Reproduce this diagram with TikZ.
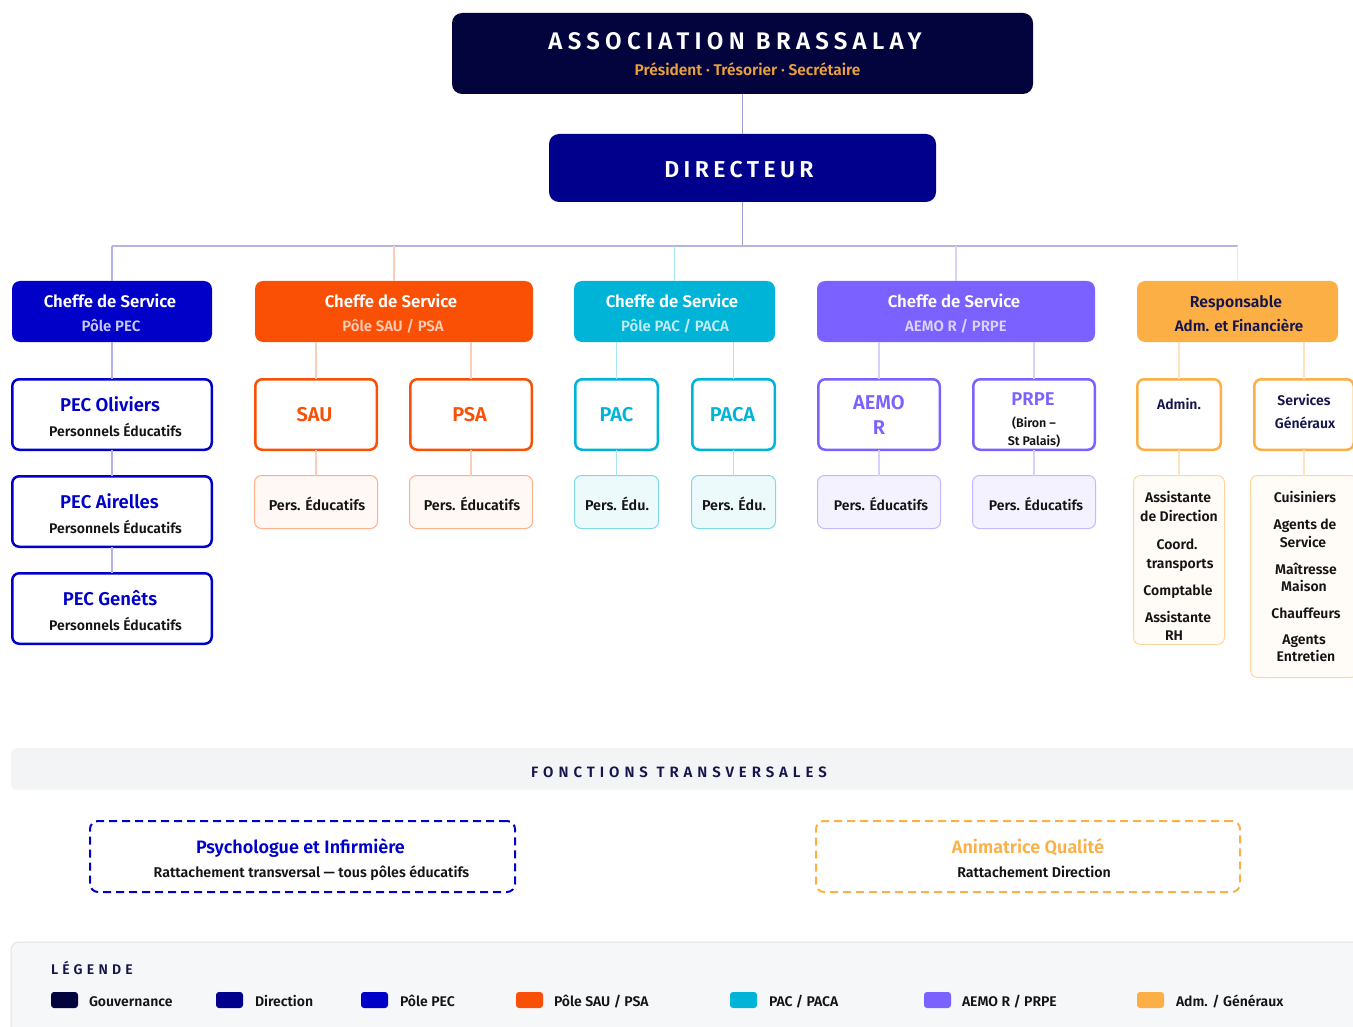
\documentclass[tikz,border=0pt]{standalone}
\usepackage{fontspec}
\setmainfont{Fira Sans}[BoldFont={Fira Sans SemiBold}]
\definecolor{gov}{HTML}{03033D}
\definecolor{dir}{HTML}{00008C}
\definecolor{pec}{HTML}{0000C8}
\definecolor{sau}{HTML}{FA5005}
\definecolor{pac}{HTML}{00B4D8}
\definecolor{aemo}{HTML}{7B61FF}
\definecolor{adm}{HTML}{FBAF45}
\definecolor{ink}{HTML}{141414}
\definecolor{navytxt}{HTML}{15154C}
\definecolor{gold}{HTML}{E9A23B}
\definecolor{trunk}{HTML}{9C9CD2}
\definecolor{barbg}{HTML}{F3F4F6}
\definecolor{legbg}{HTML}{F6F7F9}
\definecolor{legline}{HTML}{E1E3E7}
\newcommand\fsz[1]{\fontsize{#1}{#1}\selectfont\bfseries}
\tikzset{
  x=1pt, y=-1pt,
  every node/.style={inner sep=0pt, outer sep=0pt},
  txt/.style={anchor=base, text=ink},
  headbox/.style={fill=#1, rounded corners=8pt},
  unitbox/.style={draw=#1, line width=2.5pt, fill=white, rounded corners=7pt},
  staffbox/.style 2 args={draw=#1, line width=1pt, fill=#2, rounded corners=7pt},
  link/.style={draw=#1, line width=1.5pt},
  swatch/.style={fill=#1, rounded corners=3pt, minimum width=27pt, minimum height=16pt},
  dashbox/.style={draw=#1, line width=2pt, dash pattern=on 8pt off 5pt, rounded corners=8pt}
}
\begin{document}
\begin{tikzpicture}
\useasboundingbox (0,0) rectangle (1353,1027);

% ---------- governance and direction ----------
\node[fill=gov, rounded corners=10pt, minimum width=581pt, minimum height=81pt] (gov) at (742.5,53.5) {};
\node[txt, text=white] (govT) at (735,50) {\fsz{24}\addfontfeature{LetterSpace=22}ASSOCIATION BRASSALAY};
\node[txt, text=gold] (govS) at (747.5,76) {\fsz{15.5}Président · Trésorier · Secrétaire};

\node[fill=dir, rounded corners=10pt, minimum width=387pt, minimum height=68pt] (dir) at (742.5,168) {};
\node[txt, text=white] (dirT) at (739,178) {\fsz{23}\addfontfeature{LetterSpace=19}DIRECTEUR};

% ---------- heads of service ----------
\node[headbox=pec, minimum width=200pt, minimum height=61pt] (chPEC) at (112,311.5) {};
\node[headbox=sau, minimum width=278pt, minimum height=61pt] (chSAU) at (394,311.5) {};
\node[headbox=pac, minimum width=201pt, minimum height=61pt] (chPAC) at (674.5,311.5) {};
\node[headbox=aemo, minimum width=278pt, minimum height=61pt] (chAEMO) at (956,311.5) {};
\node[headbox=adm, minimum width=201pt, minimum height=61pt] (chADM) at (1237.5,311.5) {};

\node[txt, text=white] (chPECa) at (110,307.5) {\fsz{16.8}Cheffe de Service};
\node[txt, text=white!78!pec] (chPECb) at (111,331) {\fsz{15}Pôle PEC};
\node[txt, text=white] (chSAUa) at (391,307.5) {\fsz{16.8}Cheffe de Service};
\node[txt, text=white!70!sau] (chSAUb) at (393,331) {\fsz{15}Pôle SAU / PSA};
\node[txt, text=white] (chPACa) at (672,307.5) {\fsz{16.8}Cheffe de Service};
\node[txt, text=white!75!pac] (chPACb) at (675,331) {\fsz{15}Pôle PAC / PACA};
\node[txt, text=white] (chAEMOa) at (954,307.5) {\fsz{16.8}Cheffe de Service};
\node[txt, text=white!72!aemo] (chAEMOb) at (956,331) {\fsz{15}AEMO R / PRPE};
\node[txt, text=navytxt] (chADMa) at (1236,307.5) {\fsz{15.8}Responsable};
\node[txt, text=navytxt] (chADMb) at (1239,331) {\fsz{15.2}Adm. et Financière};

% ---------- units ----------
\node[unitbox=pec, minimum width=199.5pt, minimum height=70.5pt] (pecA) at (112,414.5) {};
\node[unitbox=pec, minimum width=199.5pt, minimum height=70.5pt] (pecB) at (112,511.5) {};
\node[unitbox=pec, minimum width=199.5pt, minimum height=70.5pt] (pecC) at (112,608.5) {};
\node[unitbox=sau, minimum width=121.5pt, minimum height=70.5pt] (sau) at (316,414.5) {};
\node[unitbox=sau, minimum width=121.5pt, minimum height=70.5pt] (psa) at (471,414.5) {};
\node[unitbox=pac, minimum width=82.5pt, minimum height=70.5pt] (pacU) at (616.5,414.5) {};
\node[unitbox=pac, minimum width=82.5pt, minimum height=70.5pt] (pacaU) at (733.5,414.5) {};
\node[unitbox=aemo, minimum width=121.5pt, minimum height=70.5pt] (aemoU) at (879,414.5) {};
\node[unitbox=aemo, minimum width=121.5pt, minimum height=70.5pt] (prpeU) at (1034,414.5) {};
\node[unitbox=adm, minimum width=83.5pt, minimum height=70.5pt] (admU) at (1179,414.5) {};
\node[unitbox=adm, minimum width=99.5pt, minimum height=70.5pt] (servU) at (1304,414.5) {};

\node[txt, text=pec] (pecAa) at (110,411.5) {\fsz{18.5}PEC Oliviers};
\node[txt] (pecAb) at (115.5,436) {\fsz{14}Personnels Éducatifs};
\node[txt, text=pec] (pecBa) at (109.5,508) {\fsz{18.5}PEC Airelles};
\node[txt] (pecBb) at (115.5,533) {\fsz{14}Personnels Éducatifs};
\node[txt, text=pec] (pecCa) at (110,605) {\fsz{18.5}PEC Genêts};
\node[txt] (pecCb) at (115.5,630) {\fsz{14}Personnels Éducatifs};
\node[txt, text=sau] (sauT) at (314.5,421) {\fsz{20}SAU};
\node[txt, text=sau] (psaT) at (469.5,421) {\fsz{20}PSA};
\node[txt, text=pac] (pacT) at (616.5,421) {\fsz{20}PAC};
\node[txt, text=pac] (pacaT) at (732.5,421) {\fsz{20}PACA};
\node[txt, text=aemo] (aemoT1) at (879,409) {\fsz{20}AEMO};
\node[txt, text=aemo] (aemoT2) at (879,434) {\fsz{20}R};
\node[txt, text=aemo] (prpeT1) at (1033,405.5) {\fsz{18.5}PRPE};
\node[txt] (prpeT2) at (1034,427.5) {\fsz{12.5}(Biron –};
\node[txt] (prpeT3) at (1034,445.5) {\fsz{12.5}St Palais)};
\node[txt, text=navytxt] (admT) at (1179,409) {\fsz{14}Admin.};
\node[txt, text=navytxt] (servT1) at (1304,405) {\fsz{14}Services};
\node[txt, text=navytxt] (servT2) at (1305,428) {\fsz{14}Généraux};

% ---------- staff ----------
\node[staffbox={sau!45}{sau!4}, minimum width=123pt, minimum height=53pt] (sauP) at (316,502) {};
\node[staffbox={sau!45}{sau!4}, minimum width=123pt, minimum height=53pt] (psaP) at (471,502) {};
\node[staffbox={pac!50}{pac!7}, minimum width=84pt, minimum height=53pt] (pacP) at (616.5,502) {};
\node[staffbox={pac!50}{pac!7}, minimum width=84pt, minimum height=53pt] (pacaP) at (733.5,502) {};
\node[staffbox={aemo!45}{aemo!8}, minimum width=123pt, minimum height=53pt] (aemoP) at (879,502) {};
\node[staffbox={aemo!45}{aemo!8}, minimum width=123pt, minimum height=53pt] (prpeP) at (1034,502) {};
\node[staffbox={adm!50}{adm!5}, minimum width=91pt, minimum height=169pt] (admL) at (1179,560) {};
\node[staffbox={adm!50}{adm!5}, minimum width=107pt, minimum height=202pt] (servL) at (1304,576.5) {};

\node[txt] (sauPt) at (317,510) {\fsz{14.3}Pers. Éducatifs};
\node[txt] (psaPt) at (472,510) {\fsz{14.3}Pers. Éducatifs};
\node[txt] (pacPt) at (617,510) {\fsz{14.3}Pers. Édu.};
\node[txt] (pacaPt) at (734,510) {\fsz{14.3}Pers. Édu.};
\node[txt] (aemoPt) at (881,510) {\fsz{14}Pers. Éducatifs};
\node[txt] (prpePt) at (1036,510) {\fsz{14}Pers. Éducatifs};

\node[txt] (admL1) at (1178,502) {\fsz{14}Assistante};
\node[txt] (admL2) at (1179,521) {\fsz{14}de Direction};
\node[txt] (admL3) at (1177,549) {\fsz{14}Coord.};
\node[txt] (admL4) at (1180,568) {\fsz{14}transports};
\node[txt] (admL5) at (1178,595) {\fsz{14}Comptable};
\node[txt] (admL6) at (1178,622) {\fsz{14}Assistante};
\node[txt] (admL7) at (1174,640) {\fsz{14}RH};

\node[txt] (servL1) at (1305,502) {\fsz{14}Cuisiniers};
\node[txt] (servL2) at (1305,529) {\fsz{14}Agents de};
\node[txt] (servL3) at (1303,547) {\fsz{14}Service};
\node[txt] (servL4) at (1306,574) {\fsz{14}Maîtresse};
\node[txt] (servL5) at (1304,591) {\fsz{14}Maison};
\node[txt] (servL6) at (1306,618) {\fsz{14}Chauffeurs};
\node[txt] (servL7) at (1304,644) {\fsz{14}Agents};
\node[txt] (servL8) at (1306,661) {\fsz{14}Entretien};

% ---------- connectors ----------
\coordinate (bus) at (742.5,246);
\draw[link=trunk] (gov.south) -- (dir.north);
\draw[link=trunk] (dir.south) -- (bus);
\draw[link=trunk!75] (chPEC.north |- bus) -- (chADM.north |- bus);
\draw[link=pec!30] (chPEC.north |- bus) -- (chPEC.north);
\draw[link=sau!30] (chSAU.north |- bus) -- (chSAU.north);
\draw[link=pac!35] (chPAC.north |- bus) -- (chPAC.north);
\draw[link=aemo!30] (chAEMO.north |- bus) -- (chAEMO.north);
\draw[link=adm!35] (chADM.north |- bus) -- (chADM.north);

\draw[link=pec!30] (chPEC.south) -- (pecA.north);
\draw[link=pec!30] (pecA.south) -- (pecB.north);
\draw[link=pec!30] (pecB.south) -- (pecC.north);
\draw[link=sau!30] (sau.north |- chSAU.south) -- (sau.north);
\draw[link=sau!30] (psa.north |- chSAU.south) -- (psa.north);
\draw[link=sau!30] (sau.south) -- (sauP.north);
\draw[link=sau!30] (psa.south) -- (psaP.north);
\draw[link=pac!35] (pacU.north |- chPAC.south) -- (pacU.north);
\draw[link=pac!35] (pacaU.north |- chPAC.south) -- (pacaU.north);
\draw[link=pac!35] (pacU.south) -- (pacP.north);
\draw[link=pac!35] (pacaU.south) -- (pacaP.north);
\draw[link=aemo!30] (aemoU.north |- chAEMO.south) -- (aemoU.north);
\draw[link=aemo!30] (prpeU.north |- chAEMO.south) -- (prpeU.north);
\draw[link=aemo!30] (aemoU.south) -- (aemoP.north);
\draw[link=aemo!30] (prpeU.south) -- (prpeP.north);
\draw[link=adm!35] (admU.north |- chADM.south) -- (admU.north);
\draw[link=adm!35] (servU.north |- chADM.south) -- (servU.north);
\draw[link=adm!35] (admU.south) -- (admL.north);
\draw[link=adm!35] (servU.south) -- (servL.north);

% ---------- cross-functional roles ----------
\node[fill=barbg, rounded corners=6pt, minimum width=1354pt, minimum height=42pt] (bar) at (688,769) {};
\node[txt, text=navytxt] (barT) at (679,777) {\fsz{15}\addfontfeature{LetterSpace=33}FONCTIONS TRANSVERSALES};

\node[dashbox=pec, minimum width=425pt, minimum height=71pt] (psy) at (302.5,856.5) {};
\node[txt, text=pec] (psyT) at (300.5,853) {\fsz{18}Psychologue et Infirmière};
\node[txt] (psyS) at (311.5,877.5) {\fsz{14.2}Rattachement transversal — tous pôles éducatifs};

\node[dashbox=adm, minimum width=424pt, minimum height=71pt] (qual) at (1028,856.5) {};
\node[txt, text=adm] (qualT) at (1028,853) {\fsz{18}Animatrice Qualité};
\node[txt] (qualS) at (1034,877.5) {\fsz{14.2}Rattachement Direction};

% ---------- legend ----------
\node[fill=legbg, draw=legline, line width=1pt, rounded corners=8pt, minimum width=1354pt, minimum height=98pt] (leg) at (688,991) {};
\node[txt, anchor=base west, text=navytxt] (legT) at (51,974) {\fsz{14}\addfontfeature{LetterSpace=30}LÉGENDE};

\node[swatch=gov] (sw1) at (64.5,1000) {};
\node[swatch=dir] (sw2) at (229.5,1000) {};
\node[swatch=pec] (sw3) at (374.5,1000) {};
\node[swatch=sau] (sw4) at (529.5,1000) {};
\node[swatch=pac] (sw5) at (743.5,1000) {};
\node[swatch=aemo] (sw6) at (937.5,1000) {};
\node[swatch=adm] (sw7) at (1150.5,1000) {};
\node[txt, anchor=base west] (lg1) at (89,1006.5) {\fsz{14}Gouvernance};
\node[txt, anchor=base west] (lg2) at (255,1006.5) {\fsz{14}Direction};
\node[txt, anchor=base west] (lg3) at (400,1006.5) {\fsz{14}Pôle PEC};
\node[txt, anchor=base west] (lg4) at (554,1006.5) {\fsz{14}Pôle SAU / PSA};
\node[txt, anchor=base west] (lg5) at (769,1006.5) {\fsz{14}PAC / PACA};
\node[txt, anchor=base west] (lg6) at (962,1006.5) {\fsz{14}AEMO R / PRPE};
\node[txt, anchor=base west] (lg7) at (1176,1006.5) {\fsz{14}Adm. / Généraux};
\end{tikzpicture}
\end{document}
